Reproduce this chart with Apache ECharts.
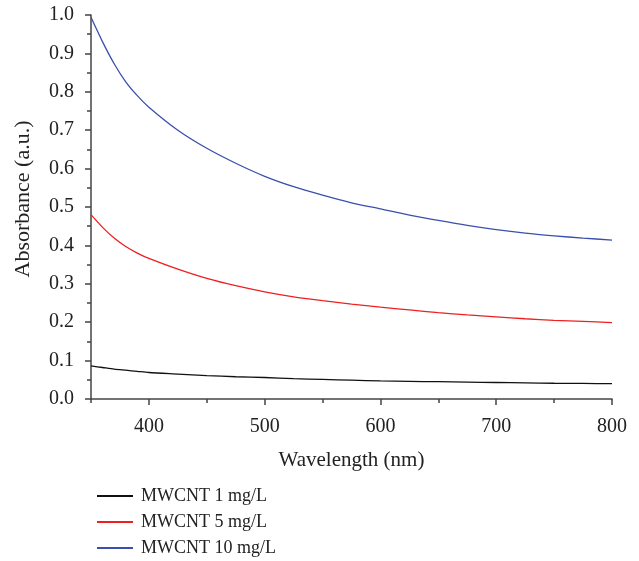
<!DOCTYPE html>
<html><head><meta charset="utf-8">
<script src="https://cdn.jsdelivr.net/npm/echarts@6/dist/echarts.min.js"></script>
<style>html,body{margin:0;padding:0;background:#fff}#c{width:639px;height:561px}</style>
</head><body><div id="c"></div>
<script>
const wavelengths = [350,360,370,380,390,400,425,450,475,500,525,550,575,600,625,650,675,700,725,750,775,800];
const mwcnt1  = [0.086,0.082,0.078,0.075,0.072,0.069,0.065,0.061,0.058,0.056,0.053,0.051,0.049,0.047,0.046,0.045,0.044,0.043,0.042,0.041,0.0405,0.040];
const mwcnt5  = [0.48,0.447,0.419,0.397,0.380,0.366,0.338,0.314,0.295,0.279,0.266,0.256,0.247,0.239,0.232,0.225,0.219,0.214,0.209,0.205,0.202,0.199];
const mwcnt10 = [0.994,0.93,0.873,0.826,0.79,0.76,0.70,0.653,0.614,0.580,0.553,0.531,0.511,0.495,0.479,0.465,0.452,0.441,0.432,0.425,0.419,0.414];
const seriesNames = ['MWCNT 1 mg/L','MWCNT 5 mg/L','MWCNT 10 mg/L'];
const xMajor = [400,500,600,700,800];
const xMinor = [350,450,550,650,750];

const font = '"Liberation Serif","DejaVu Serif",serif';
const axisColor = '#444';
const pairs = arr => wavelengths.map((w,i)=>[w,arr[i]]);
const chart = echarts.init(document.getElementById('c'));
chart.setOption({
  animation:false,
  grid:{left:91,right:27,top:15,bottom:162,containLabel:false},
  legend:{
    orient:'vertical', left:92, top:482, height:80, itemWidth:36, itemHeight:2, itemGap:8,
    icon:'rect',
    data:seriesNames,
    textStyle:{fontFamily:font,fontSize:18,color:'#222',padding:[0,0,0,3],lineHeight:18}
  },
  xAxis:[{
    type:'value', min:350, max:800,
    axisLine:{show:true,lineStyle:{color:axisColor,width:1.5}},
    axisTick:{show:true,customValues:xMajor,length:6,inside:false,lineStyle:{color:axisColor,width:1.5}},
    axisLabel:{customValues:xMajor,fontFamily:font,fontSize:20,color:'#222',margin:18},
    splitLine:{show:false},
    name:'Wavelength (nm)', nameLocation:'middle', nameGap:51,
    nameTextStyle:{fontFamily:font,fontSize:21,color:'#222'}
  },{
    type:'value', min:350, max:800, position:'bottom',
    axisLine:{show:false},
    axisTick:{show:true,customValues:xMinor,length:4,lineStyle:{color:axisColor,width:1.5}},
    axisLabel:{show:false},
    splitLine:{show:false}
  }],
  yAxis:{
    type:'value', min:0, max:1, interval:0.1,
    axisLine:{show:true,lineStyle:{color:axisColor,width:1.5}},
    axisTick:{show:true,length:6,lineStyle:{color:axisColor,width:1.5}},
    minorTick:{show:true,splitNumber:2,length:4,lineStyle:{color:axisColor,width:1.5}},
    axisLabel:{formatter:v=>v.toFixed(1),fontFamily:font,fontSize:20,color:'#222',margin:17},
    splitLine:{show:false},
    name:'Absorbance (a.u.)', nameLocation:'middle', nameGap:57, nameRotate:90,
    nameTextStyle:{fontFamily:font,fontSize:22,color:'#222',padding:[0,0,0,16]}
  },
  series:[
    {name:seriesNames[0],type:'line',data:pairs(mwcnt1),smooth:0.25,symbol:'none',lineStyle:{color:'#111',width:1.3},itemStyle:{color:'#111'}},
    {name:seriesNames[1],type:'line',data:pairs(mwcnt5),smooth:0.25,symbol:'none',lineStyle:{color:'#ee2020',width:1.3},itemStyle:{color:'#ee2020'}},
    {name:seriesNames[2],type:'line',data:pairs(mwcnt10),smooth:0.25,symbol:'none',lineStyle:{color:'#3a4fae',width:1.3},itemStyle:{color:'#3a4fae'}}
  ]
});
</script></body></html>
